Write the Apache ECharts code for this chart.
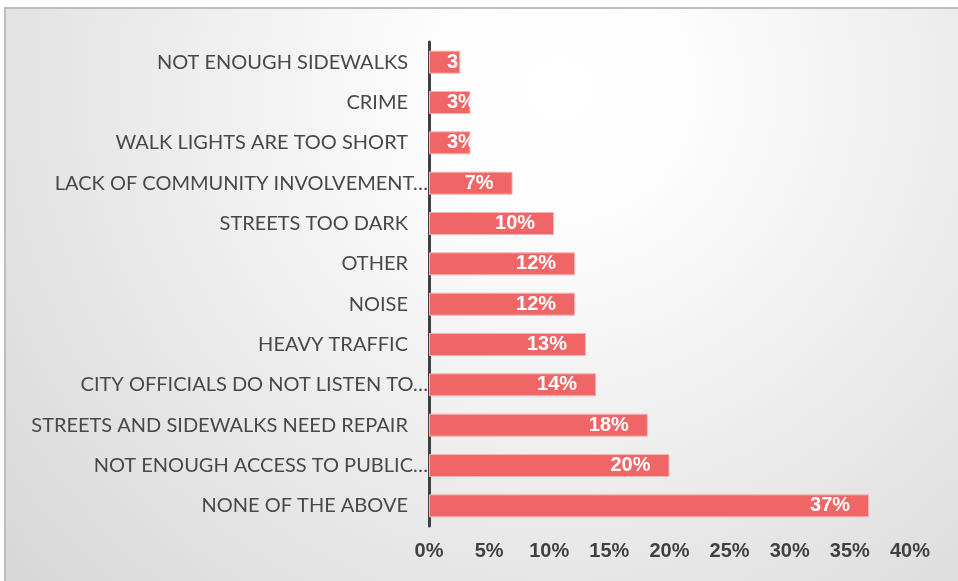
<!DOCTYPE html>
<html>
<head>
<meta charset="utf-8">
<script src="https://cdn.jsdelivr.net/npm/echarts@6/dist/echarts.min.js"></script>
<style>
  html, body { margin: 0; padding: 0; background: #ffffff; }
  #chart { width: 958px; height: 581px; }
</style>
</head>
<body>
<div id="chart"></div>
<script>
// Survey responses: barriers to walking (share of respondents)
const categories = [
  'NOT ENOUGH SIDEWALKS',
  'CRIME',
  'WALK LIGHTS ARE TOO SHORT',
  'LACK OF COMMUNITY INVOLVEMENT…',
  'STREETS TOO DARK',
  'OTHER',
  'NOISE',
  'HEAVY TRAFFIC',
  'CITY OFFICIALS DO NOT LISTEN TO…',
  'STREETS AND SIDEWALKS NEED REPAIR',
  'NOT ENOUGH ACCESS TO PUBLIC…',
  'NONE OF THE ABOVE'
];
const shares = [2.6, 3.45, 3.45, 6.95, 10.4, 12.15, 12.15, 13.05, 13.9, 18.2, 20.0, 36.6];
const truncatedLabels = [3, 8, 10];
const smallBars = [0, 1, 2];

const valueTicks = { min: 0, max: 40, interval: 5 };

const chart = echarts.init(document.getElementById('chart'), null, { renderer: 'canvas' });

const catData = categories.slice().reverse().map((c, i) => {
  const idx = categories.length - 1 - i;
  return truncatedLabels.includes(idx)
    ? { value: c, textStyle: { padding: [0, -20, 0, 0] } }
    : c;
});

const barData = shares.slice().reverse().map((v, i) => {
  const idx = shares.length - 1 - i;
  const item = { value: v };
  if (smallBars.includes(idx)) {
    // narrow bars: label starts from the left instead of the bar end
    item.label = { position: 'insideLeft', distance: 18 };
    if (v < 3) {
      // too narrow for the full label: cut it where the bar ends
      item.label.width = 22;
      item.label.overflow = 'truncate';
      item.label.ellipsis = '';
    }
  }
  return item;
});

chart.setOption({
  animation: false,
  graphic: [
    {
      type: 'rect',
      shape: { x: 5, y: 8, width: 953, height: 573 },
      style: {
        fill: {
          type: 'radial', x: 560, y: 90, r: 850, global: true,
          colorStops: [
            { offset: 0, color: '#ffffff' },
            { offset: 0.15, color: '#fdfdfd' },
            { offset: 1, color: '#d0d0d0' }
          ]
        }
      },
      z: -10, silent: true
    },
    {
      type: 'polyline',
      shape: { points: [[5, 581], [5, 8], [958, 8]] },
      style: { stroke: '#bdbdbd', lineWidth: 2, fill: null },
      z: -9, silent: true
    }
  ],
  grid: { left: 429, right: 48, top: 42, bottom: 55, containLabel: false },
  xAxis: {
    type: 'value',
    min: valueTicks.min, max: valueTicks.max, interval: valueTicks.interval,
    splitLine: { show: false },
    axisLine: { show: false },
    axisTick: { show: false },
    axisLabel: {
      formatter: v => v + '%',
      color: '#404040',
      fontFamily: 'Liberation Sans, Arial, sans-serif',
      fontWeight: 'bold',
      fontSize: 20,
      margin: 15
    }
  },
  yAxis: {
    type: 'category',
    data: catData,
    axisLine: { show: true, onZero: false, lineStyle: { color: '#404040', width: 3 } },
    axisTick: { show: false },
    axisLabel: {
      color: '#484848',
      fontFamily: 'Lato, sans-serif',
      fontSize: 20,
      margin: 21
    }
  },
  series: [{
    type: 'bar',
    data: barData,
    barCategoryGap: '43%',
    itemStyle: { color: '#F06666', borderColor: '#F8B4B4', borderWidth: 1 },
    label: {
      show: true,
      position: 'insideRight',
      distance: 19,
      formatter: p => Math.round(p.value) + '%',
      color: '#ffffff',
      fontFamily: 'Liberation Sans, Arial, sans-serif',
      fontWeight: 'bold',
      fontSize: 20
    }
  }]
});
</script>
</body>
</html>
